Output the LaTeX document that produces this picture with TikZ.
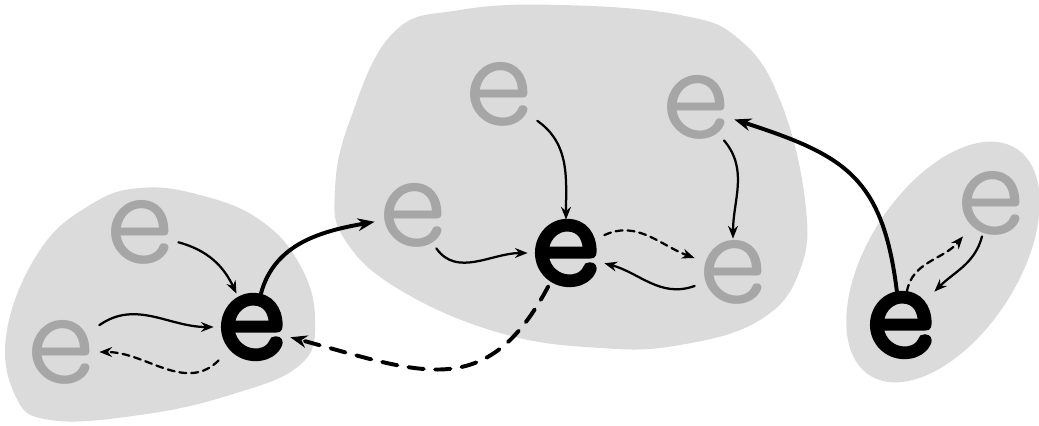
\documentclass[tikz,border=0pt]{standalone}
\usepackage{fontspec}
\usepackage{tikz}
\usetikzlibrary{arrows.meta}
\newfontfamily\efont{Latin Modern Mono}
\newfontfamily\ebfont[FakeBold=3]{Latin Modern Mono}
\definecolor{blobGray}{rgb}{0.86, 0.86, 0.86}
\definecolor{letterGray}{rgb}{0.65, 0.65, 0.65}
\tikzset{
	blob/.style={fill=blobGray},
	eGray/.style={text=letterGray, font=\efont\fontsize{102}{102}\selectfont, inner sep=1pt, outer sep=0pt},
	eBlack/.style={text=black, font=\ebfont\fontsize{102}{102}\selectfont, inner sep=1pt, outer sep=0pt},
	link/.style={-{Stealth[length=9pt, width=7pt]}, line width=1.6pt},
	dlink/.style={link, dash pattern=on 5pt off 3.5pt},
	biglink/.style={-{Stealth[length=12pt, width=9pt]}, line width=2.8pt},
	bigdlink/.style={biglink, dash pattern=on 11pt off 8pt}
}

\begin{document}
\begin{tikzpicture}[x=0.025cm, y=0.025cm, line cap = round]
	\useasboundingbox (0,0) rectangle (1039,426);

	\fill[blob] plot[smooth cycle, tension=0.7] coordinates {(7,96) (40,176) (90,221) (140,238) (200,231) (260,206) (300,161) (315,106) (300,61) (230,31) (140,11) (50,6) (15,31)};
	\fill[blob] plot[smooth cycle, tension=0.7] coordinates {(335,236) (350,306) (393,393) (460,416) (560,421) (680,411) (740,386) (780,326) (805,226) (800,156) (760,106) (680,81) (600,78) (500,93) (400,136) (345,186)};
	\fill[blob, rotate around={57:(943,164)}] (943,164) ellipse [x radius=135, y radius=75];

	% left group
	\node[eGray] (lTop) at (140,194) {e};
	\node[eGray] (lLeft) at (61,74) {e};
	\node[eBlack] (lHub) at (252,99) {e};

	% middle group
	\node[eGray] (mTop) at (499,332) {e};
	\node[eGray] (mRight) at (696,319) {e};
	\node[eGray] (mLeft) at (413,211) {e};
	\node[eBlack] (mHub) at (566,173) {e};
	\node[eGray] (mLow) at (733,154) {e};

	% right group
	\node[eGray] (rTop) at (991,223) {e};
	\node[eBlack] (rHub) at (901,101) {e};

	\draw[link] (lTop) to[out=-15, in=115] (lHub);
	\draw[link] (lLeft) to[out=35, in=180] (lHub);
	\draw[dlink] (lHub) to[out=-135, in=0] (lLeft);
	\draw[biglink] (lHub) to[out=75, in=190] (mLeft);

	\draw[link] (mTop) to[out=-35, in=90] (mHub);
	\draw[link] (mLeft) to[out=-55, in=180] (mHub);
	\draw[dlink] (mHub) to[out=25, in=160] (mLow);
	\draw[link] (mLow) to[out=-160, in=-15] (mHub);
	\draw[link] (mRight) to[out=-50, in=90] (mLow);
	\draw[bigdlink] (mHub) to[out=-118, in=-15, looseness=1.3] (lHub);

	\draw[biglink] (rHub) to[out=97, in=-18, looseness=1.25] (mRight);
	\draw[dlink] (rHub) to[out=80, in=230] (rTop);
	\draw[link] (rTop) to[out=-105, in=45] (rHub);

\end{tikzpicture}
\end{document}
